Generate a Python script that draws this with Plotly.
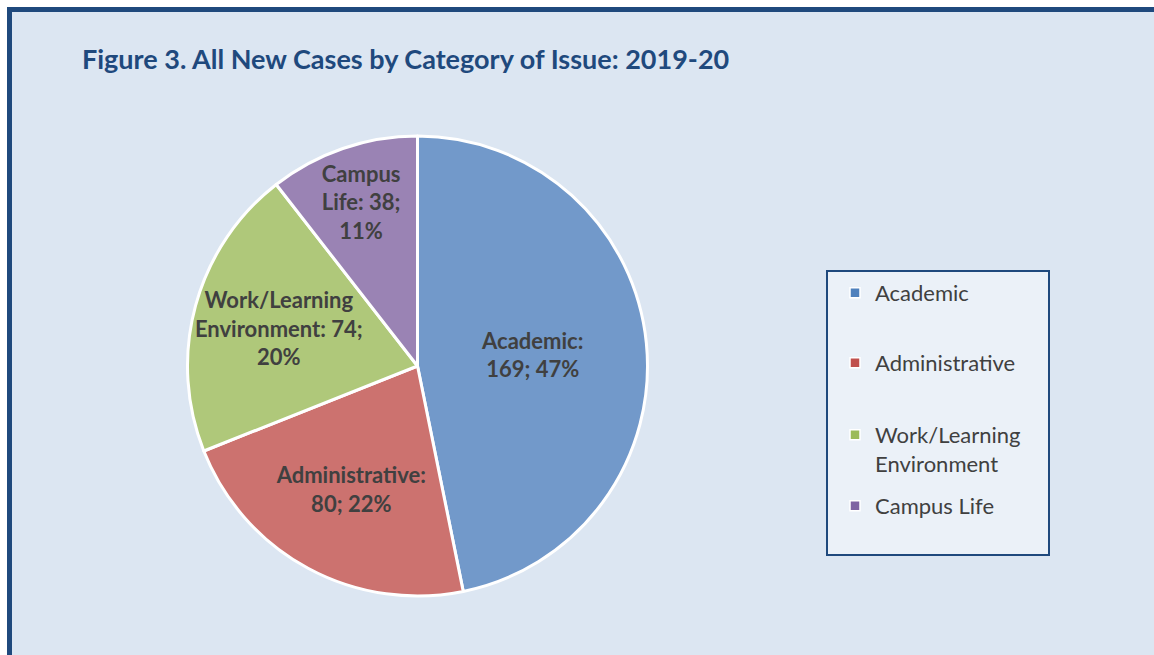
import plotly.graph_objects as go

W, H = 1154, 655

categories = ["Academic", "Administrative", "Work/Learning Environment", "Campus Life"]
values = [169, 80, 74, 38]
wrapped_labels = ["Academic", "Administrative", "Work/Learning<br>Environment", "Campus<br>Life"]
legend_names = ["Academic", "Administrative", "Work/Learning<br>Environment", "Campus Life"]
colors = ["#7299ca", "#cc726f", "#afc87a", "#9a83b4"]
legend_colors = ["#4f81bd", "#c0504d", "#9bbb59", "#8064a2"]
templates = [
    "%{text}:<br>%{value}; %{percent:.0%}",
    "%{text}:<br>%{value}; %{percent:.0%}",
    "%{text}: %{value};<br>%{percent:.0%}",
    "%{text}: %{value};<br>%{percent:.0%}",
]
title_text = "Figure 3. All New Cases by Category of Issue: 2019-20"

FONT = "Lato"
TXT = "#404040"
NAVY = "#1f497d"

fig = go.Figure()

fig.add_trace(go.Pie(
    labels=categories,
    values=values,
    text=wrapped_labels,
    texttemplate=templates,
    textinfo="text",
    textposition="inside",
    insidetextorientation="horizontal",
    sort=False,
    direction="clockwise",
    rotation=0,
    marker=dict(colors=colors, line=dict(color="white", width=3)),
    textfont=dict(family=FONT, size=22, color=TXT, weight="bold"),
    domain=dict(x=[187 / W, 648 / W], y=[1 - 596 / H, 1 - 136 / H]),
    showlegend=False,
    hoverinfo="label+value+percent",
))

legend_y_px = [272, 342, 414, 485]
for i, (name, col) in enumerate(zip(legend_names, legend_colors)):
    lg = "legend" if i == 0 else f"legend{i + 1}"
    fig.add_trace(go.Scatter(
        x=[None], y=[None], mode="markers", name=name,
        marker=dict(symbol="square", size=10, color=col, line=dict(color="white", width=1.5)),
        legend=lg, showlegend=True,
    ))
    fig.update_layout({lg: dict(
        x=835 / W, xanchor="left",
        y=1 - legend_y_px[i] / H, yanchor="top",
        bgcolor="rgba(0,0,0,0)", borderwidth=0,
        font=dict(family=FONT, size=22, color=TXT),
        valign="top",
    )})

fig.update_layout(
    width=W, height=H, autosize=False,
    margin=dict(l=0, r=0, t=0, b=0),
    paper_bgcolor="white",
    plot_bgcolor="rgba(0,0,0,0)",
    xaxis=dict(visible=False),
    yaxis=dict(visible=False),
    title=dict(
        text=title_text,
        x=82 / W, xanchor="left", xref="container",
        y=1 - 60 / H, yanchor="middle", yref="container",
        font=dict(family=FONT, size=27, color=NAVY, weight="bold"),
    ),
    uniformtext=dict(minsize=22, mode="show"),
    shapes=[
        dict(type="rect", xref="paper", yref="paper",
             x0=9.5 / W, x1=1170 / W, y0=-20 / H, y1=1 - 9.5 / H,
             fillcolor="#dce6f2", line=dict(color=NAVY, width=5), layer="below"),
        dict(type="rect", xref="paper", yref="paper",
             x0=827 / W, x1=1049 / W, y0=1 - 555 / H, y1=1 - 271 / H,
             fillcolor="#ebf1f8", line=dict(color=NAVY, width=2), layer="below"),
    ],
)

fig.write_html(
    "out.html",
    config={"displayModeBar": False},
    post_script="document.body.style.margin='0';document.body.style.overflow='hidden';",
)
